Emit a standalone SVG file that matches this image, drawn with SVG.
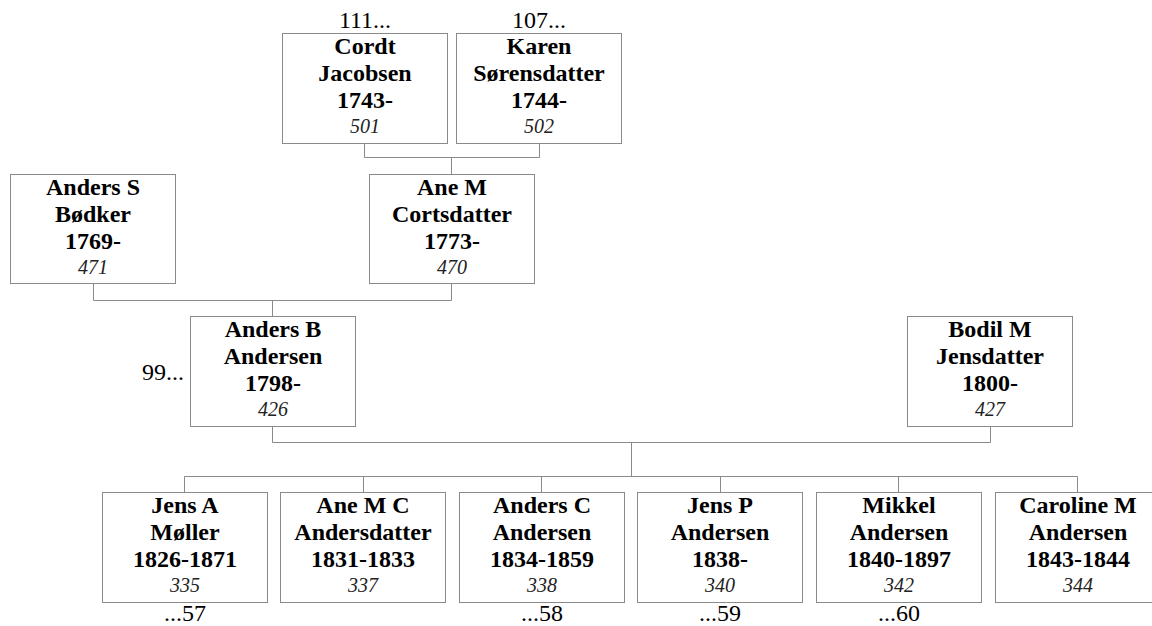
<svg xmlns="http://www.w3.org/2000/svg" width="1152" height="626" viewBox="0 0 1152 626" font-family="Liberation Serif, serif">
<defs>
<style>
.box{fill:#fff;stroke:#8a8a8a;stroke-width:1}
.con{fill:none;stroke:#8a8a8a;stroke-width:1}
</style>
</defs>
<rect width="1152" height="626" fill="#fff"/>
<g id="connectors" class="con">
<path d="M364.5 143 V157.5 H539.5 V143 M451.5 157.5 V174"/>
<path d="M93.5 283 V300.5 H451.5 V283 M272.5 300.5 V316"/>
<path d="M272.5 426 V442.5 H990.5 V426 M631.5 442.5 V476.5"/>
<path d="M184.5 492 V476.5 H1077.5 V492 M363.5 476.5 V492 M541.5 476.5 V492 M720.5 476.5 V492 M898.5 476.5 V492"/>
</g>
<g id="n501" text-anchor="middle">
<rect class="box" x="282.5" y="33.5" width="165" height="110"/>
<text font-family="Liberation Serif" font-size="24" x="365" y="28">111...</text>
<text font-family="Liberation Serif" font-size="24" font-weight="bold" x="365" y="54">Cordt</text>
<text font-family="Liberation Serif" font-size="24" font-weight="bold" x="365" y="81">Jacobsen</text>
<text font-family="Liberation Serif" font-size="24" font-weight="bold" x="365" y="108">1743-</text>
<text font-family="Liberation Serif" font-size="20" font-style="italic" fill="#222" x="365" y="133">501</text>
</g>
<g id="n502" text-anchor="middle">
<rect class="box" x="456.5" y="33.5" width="165" height="110"/>
<text font-family="Liberation Serif" font-size="24" x="539" y="28">107...</text>
<text font-family="Liberation Serif" font-size="24" font-weight="bold" x="539" y="54">Karen</text>
<text font-family="Liberation Serif" font-size="24" font-weight="bold" x="539" y="81">Sørensdatter</text>
<text font-family="Liberation Serif" font-size="24" font-weight="bold" x="539" y="108">1744-</text>
<text font-family="Liberation Serif" font-size="20" font-style="italic" fill="#222" x="539" y="133">502</text>
</g>
<g id="n471" text-anchor="middle">
<rect class="box" x="10.5" y="174.5" width="165" height="109"/>
<text font-family="Liberation Serif" font-size="24" font-weight="bold" x="93" y="195">Anders S</text>
<text font-family="Liberation Serif" font-size="24" font-weight="bold" x="93" y="222">Bødker</text>
<text font-family="Liberation Serif" font-size="24" font-weight="bold" x="93" y="249">1769-</text>
<text font-family="Liberation Serif" font-size="20" font-style="italic" fill="#222" x="93" y="274">471</text>
</g>
<g id="n470" text-anchor="middle">
<rect class="box" x="369.5" y="174.5" width="165" height="109"/>
<text font-family="Liberation Serif" font-size="24" font-weight="bold" x="452" y="195">Ane M</text>
<text font-family="Liberation Serif" font-size="24" font-weight="bold" x="452" y="222">Cortsdatter</text>
<text font-family="Liberation Serif" font-size="24" font-weight="bold" x="452" y="249">1773-</text>
<text font-family="Liberation Serif" font-size="20" font-style="italic" fill="#222" x="452" y="274">470</text>
</g>
<g id="n426" text-anchor="middle">
<rect class="box" x="190.5" y="316.5" width="165" height="110"/>
<text font-family="Liberation Serif" font-size="24" text-anchor="end" x="184" y="380">99...</text>
<text font-family="Liberation Serif" font-size="24" font-weight="bold" x="273" y="337">Anders B</text>
<text font-family="Liberation Serif" font-size="24" font-weight="bold" x="273" y="364">Andersen</text>
<text font-family="Liberation Serif" font-size="24" font-weight="bold" x="273" y="391">1798-</text>
<text font-family="Liberation Serif" font-size="20" font-style="italic" fill="#222" x="273" y="416">426</text>
</g>
<g id="n427" text-anchor="middle">
<rect class="box" x="907.5" y="316.5" width="165" height="110"/>
<text font-family="Liberation Serif" font-size="24" font-weight="bold" x="990" y="337">Bodil M</text>
<text font-family="Liberation Serif" font-size="24" font-weight="bold" x="990" y="364">Jensdatter</text>
<text font-family="Liberation Serif" font-size="24" font-weight="bold" x="990" y="391">1800-</text>
<text font-family="Liberation Serif" font-size="20" font-style="italic" fill="#222" x="990" y="416">427</text>
</g>
<g id="n335" text-anchor="middle">
<rect class="box" x="102.5" y="492.5" width="165" height="110"/>
<text font-family="Liberation Serif" font-size="24" font-weight="bold" x="185" y="513">Jens A</text>
<text font-family="Liberation Serif" font-size="24" font-weight="bold" x="185" y="540">Møller</text>
<text font-family="Liberation Serif" font-size="24" font-weight="bold" x="185" y="567">1826-1871</text>
<text font-family="Liberation Serif" font-size="20" font-style="italic" fill="#222" x="185" y="592">335</text>
<text font-family="Liberation Serif" font-size="24" x="185" y="621">...57</text>
</g>
<g id="n337" text-anchor="middle">
<rect class="box" x="280.5" y="492.5" width="165" height="110"/>
<text font-family="Liberation Serif" font-size="24" font-weight="bold" x="363" y="513">Ane M C</text>
<text font-family="Liberation Serif" font-size="24" font-weight="bold" x="363" y="540">Andersdatter</text>
<text font-family="Liberation Serif" font-size="24" font-weight="bold" x="363" y="567">1831-1833</text>
<text font-family="Liberation Serif" font-size="20" font-style="italic" fill="#222" x="363" y="592">337</text>
</g>
<g id="n338" text-anchor="middle">
<rect class="box" x="459.5" y="492.5" width="165" height="110"/>
<text font-family="Liberation Serif" font-size="24" font-weight="bold" x="542" y="513">Anders C</text>
<text font-family="Liberation Serif" font-size="24" font-weight="bold" x="542" y="540">Andersen</text>
<text font-family="Liberation Serif" font-size="24" font-weight="bold" x="542" y="567">1834-1859</text>
<text font-family="Liberation Serif" font-size="20" font-style="italic" fill="#222" x="542" y="592">338</text>
<text font-family="Liberation Serif" font-size="24" x="542" y="621">...58</text>
</g>
<g id="n340" text-anchor="middle">
<rect class="box" x="637.5" y="492.5" width="165" height="110"/>
<text font-family="Liberation Serif" font-size="24" font-weight="bold" x="720" y="513">Jens P</text>
<text font-family="Liberation Serif" font-size="24" font-weight="bold" x="720" y="540">Andersen</text>
<text font-family="Liberation Serif" font-size="24" font-weight="bold" x="720" y="567">1838-</text>
<text font-family="Liberation Serif" font-size="20" font-style="italic" fill="#222" x="720" y="592">340</text>
<text font-family="Liberation Serif" font-size="24" x="720" y="621">...59</text>
</g>
<g id="n342" text-anchor="middle">
<rect class="box" x="816.5" y="492.5" width="165" height="110"/>
<text font-family="Liberation Serif" font-size="24" font-weight="bold" x="899" y="513">Mikkel</text>
<text font-family="Liberation Serif" font-size="24" font-weight="bold" x="899" y="540">Andersen</text>
<text font-family="Liberation Serif" font-size="24" font-weight="bold" x="899" y="567">1840-1897</text>
<text font-family="Liberation Serif" font-size="20" font-style="italic" fill="#222" x="899" y="592">342</text>
<text font-family="Liberation Serif" font-size="24" x="899" y="621">...60</text>
</g>
<g id="n344" text-anchor="middle">
<rect class="box" x="995.5" y="492.5" width="165" height="110"/>
<text font-family="Liberation Serif" font-size="24" font-weight="bold" x="1078" y="513">Caroline M</text>
<text font-family="Liberation Serif" font-size="24" font-weight="bold" x="1078" y="540">Andersen</text>
<text font-family="Liberation Serif" font-size="24" font-weight="bold" x="1078" y="567">1843-1844</text>
<text font-family="Liberation Serif" font-size="20" font-style="italic" fill="#222" x="1078" y="592">344</text>
</g>
</svg>
